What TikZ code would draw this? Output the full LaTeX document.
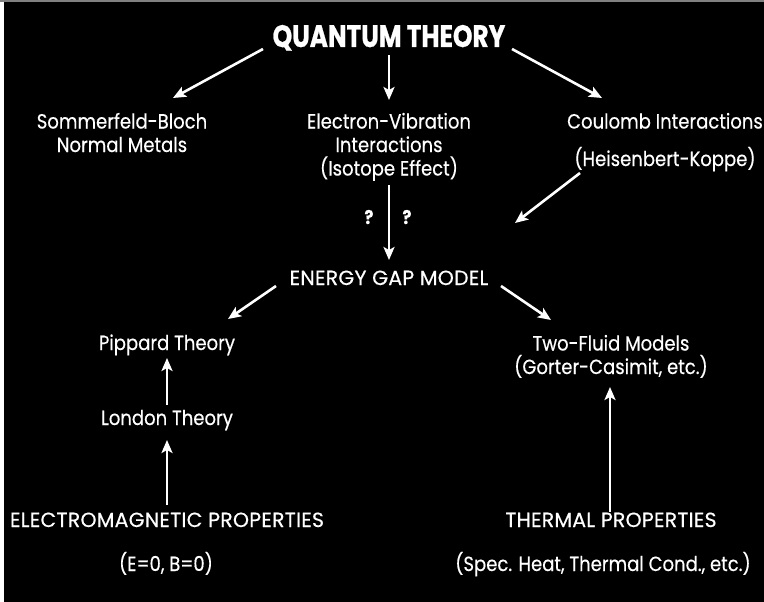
\documentclass[tikz,border=0pt]{standalone}
\usepackage{fontspec}
\setmainfont{Poppins}
\newfontfamily\bodyfamily[FakeStretch=0.88,FakeBold=0.4]{Poppins}
\newfontfamily\capsfamily[FakeStretch=1.0,LetterSpace=1,FakeBold=0.4]{Poppins}
\newfontfamily\titlefamily[FakeStretch=0.8,FakeBold=0.8]{Poppins}
\usetikzlibrary{arrows.meta}
\newcommand{\bodyfont}{\bodyfamily\fontsize{20.5}{23.5}\selectfont}
\newcommand{\capsfont}{\capsfamily\fontsize{20.5}{23.5}\selectfont}
\newcommand{\ttlfont}{\titlefamily\bfseries\fontsize{31}{36}\selectfont}
\tikzset{
  lbl/.style={text=white, font=\bodyfont, inner sep=0pt, align=center, anchor=base},
  capslbl/.style={lbl, font=\capsfont},
  ttl/.style={text=white, font=\ttlfont, inner sep=0pt, anchor=base},
  qm/.style={text=white, font=\bodyfamily\bfseries\fontsize{19}{22}\selectfont, inner sep=0pt, anchor=base},
  arr/.style={draw=white, line width=2.6pt, -{Stealth[length=13pt,width=11pt,inset=3pt]}},
}
\begin{document}
\begin{tikzpicture}[x=1pt,y=-1pt]
\useasboundingbox (0,0) rectangle (764,602);
\fill[white] (0,0) rectangle (764,602);
\fill[gray] (0,0) rectangle (764,2);
\fill[black] (4,2) rectangle (764,602);

% multi-line nodes: base anchor = baseline of last line
\node[ttl] (qt) at (389,47) {QUANTUM THEORY};
\node[lbl] (som) at (122,152) {Sommerfeld-Bloch\\Normal Metals};
\node[lbl] (evi) at (389,175.5) {Electron-Vibration\\Interactions\\(Isotope Effect)};
\node[lbl] (cou) at (665,128.5) {Coulomb Interactions};
\node[lbl] (hk) at (665,166) {(Heisenbert-Koppe)};
\node[qm] (q1) at (369,224) {?};
\node[qm] (q2) at (407,224) {?};
\node[capslbl] (egm) at (389,285) {ENERGY GAP MODEL};
\node[lbl] (pip) at (167,350) {Pippard Theory};
\node[lbl] (tfm) at (611,374) {Two-Fluid Models\\(Gorter-Casimit, etc.)};
\node[lbl] (lon) at (167,425) {London Theory};
\node[capslbl] (emp) at (167,527) {ELECTROMAGNETIC PROPERTIES};
\node[lbl] (emv) at (166,571) {(E=0, B=0)};
\node[capslbl] (thp) at (611,527) {THERMAL PROPERTIES};
\node[lbl] (thv) at (603,571) {(Spec. Heat, Thermal Cond., etc.)};

\draw[arr] ([shift={(-126,2)}]qt.base) -- ([shift={(51,-54)}]som.base);
\draw[arr] ([shift={(0,8)}]qt.base) -- ([shift={(0,-75.5)}]evi.base);
\draw[arr] ([shift={(123,2)}]qt.base) -- ([shift={(-63,-30.5)}]cou.base);
\draw[arr] ([shift={(-85,7)}]hk.base) -- ([shift={(126,-62)}]egm.base);
\draw[arr] ([shift={(0,9.5)}]evi.base) -- ([shift={(0,-25)}]egm.base);
\draw[arr] ([shift={(-113,1)}]egm.base) -- ([shift={(61,-31)}]pip.base);
\draw[arr] ([shift={(112,1)}]egm.base) -- ([shift={(-60,-54)}]tfm.base);
\draw[arr] ([shift={(0,-20)}]lon.base) -- ([shift={(0,8)}]pip.base);
\draw[arr] ([shift={(0,-22)}]emp.base) -- ([shift={(0,15)}]lon.base);
\draw[arr] ([shift={(-1,-15)}]thp.base) -- ([shift={(-1,13)}]tfm.base);
\end{tikzpicture}
\end{document}
